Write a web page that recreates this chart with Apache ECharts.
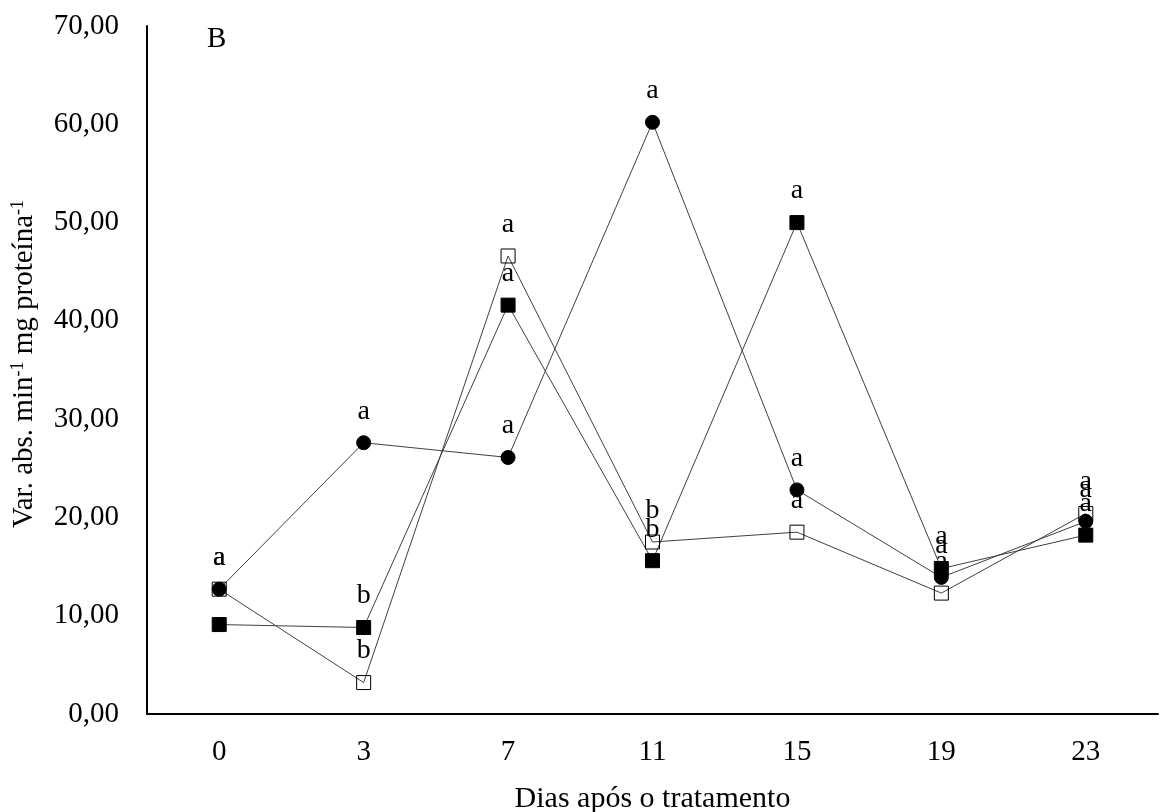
<!DOCTYPE html>
<html>
<head>
<meta charset="utf-8">
<script src="https://cdn.jsdelivr.net/npm/echarts@6/dist/echarts.min.js"></script>
<style>
  html, body { margin: 0; padding: 0; background: #fff; }
  #chart { width: 1165px; height: 812px; }
</style>
</head>
<body>
<div id="chart"></div>
<script>
var days = ['0', '3', '7', '11', '15', '19', '23'];

// filled circles
var circleVals = [12.7, 27.6, 26.1, 60.2, 22.8, 13.9, 19.6];
var circleLetters = ['a', 'a', 'a', 'a', 'a', 'a', 'a'];

// filled squares
var squareVals = [9.1, 8.8, 41.6, 15.6, 50.0, 14.8, 18.2];
var squareLetters = ['', 'b', 'a', 'b', 'a', 'a', 'a'];

// open squares
var openVals = [12.7, 3.2, 46.6, 17.5, 18.5, 12.3, 20.4];
var openLetters = ['a', 'b', 'a', 'b', 'a', 'a', 'a'];

var yTicks = [0, 10, 20, 30, 40, 50, 60, 70];

var font = 'Liberation Serif';

function lineSeries(name, vals, letters, symbol, fill) {
    return {
        name: name,
        type: 'line',
        data: vals,
        symbol: symbol,
        symbolSize: 14,
        showAllSymbol: true,
        lineStyle: { color: '#404040', width: 1 },
        itemStyle: { color: fill, borderColor: '#000', borderWidth: 1 },
        label: {
            show: true,
            position: 'top',
            distance: 10,
            fontFamily: font,
            fontSize: 28,
            color: '#000',
            formatter: function (p) { return letters[p.dataIndex]; }
        },
        emphasis: { disabled: true },
        animation: false
    };
}

var myChart = echarts.init(document.getElementById('chart'));

myChart.setOption({
    backgroundColor: '#fff',
    title: {
        text: 'B',
        left: 202,
        top: 20,
        textStyle: { fontFamily: font, fontSize: 29, fontWeight: 'normal', color: '#000' }
    },
    grid: { left: 147, right: 7, top: 26, bottom: 98, outerBoundsMode: 'none', containLabel: false },
    xAxis: {
        type: 'category',
        data: days,
        boundaryGap: true,
        name: 'Dias após o tratamento',
        nameLocation: 'middle',
        nameGap: 70,
        nameTextStyle: { fontFamily: font, fontSize: 30, color: '#000' },
        axisLine: { lineStyle: { color: '#000', width: 2 } },
        axisTick: { show: false },
        axisLabel: { fontFamily: font, fontSize: 29, color: '#000', margin: 24 },
        splitLine: { show: false }
    },
    yAxis: {
        type: 'value',
        min: yTicks[0],
        max: yTicks[yTicks.length - 1],
        interval: 10,
        name: '{t|Var. abs. min}{s|-1}{t| mg proteína}{s|-1}',
        nameLocation: 'middle',
        nameGap: 108,
        nameRotate: 90,
        nameTextStyle: {
            color: '#000',
            padding: [0, 0, 0, 12],
            rich: {
                t: { fontFamily: font, fontSize: 29, color: '#000' },
                s: { fontFamily: font, fontSize: 18, color: '#000', verticalAlign: 'top', padding: [0, 0, 12, 0] }
            }
        },
        axisLine: { show: true, lineStyle: { color: '#000', width: 2 } },
        axisTick: { show: false },
        axisLabel: {
            fontFamily: font, fontSize: 29, color: '#000', margin: 28,
            formatter: function (v) { return v.toFixed(2).replace('.', ','); }
        },
        splitLine: { show: false }
    },
    series: [
        lineSeries('quadrado', squareVals, squareLetters, 'rect', '#000'),
        lineSeries('círculo', circleVals, circleLetters, 'circle', '#000'),
        lineSeries('quadrado aberto', openVals, openLetters, 'rect', 'rgba(255,255,255,0)')
    ]
});
</script>
</body>
</html>
